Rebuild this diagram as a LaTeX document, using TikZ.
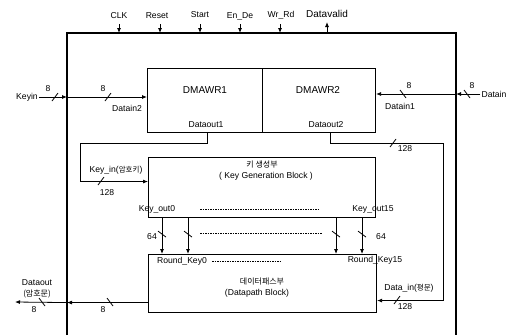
\documentclass[tikz,border=0pt]{standalone}
\usepackage{fontspec}
\setmainfont{Liberation Sans}
\newfontfamily\kr{Noto Sans CJK KR}
\usetikzlibrary{arrows.meta}
\begin{document}
\begin{tikzpicture}[x=1pt,y=-1pt,
  frame/.style={line width=1.2pt},
  box/.style={draw, line width=1.1pt, inner sep=0pt},
  lbl/.style={font=\fontsize{8.6}{10}\selectfont, inner sep=1pt},
  big/.style={font=\fontsize{10}{12}\selectfont, inner sep=1pt},
  krl/.style={font=\kr\fontsize{8}{9}\selectfont, inner sep=1pt},
  wire/.style={line width=0.8pt},
  arr/.style={wire, -{Latex[length=5pt,width=4pt]}},
  dots/.style={line width=0.7pt, dash pattern=on 1.5pt off 1pt},
  fsl/.pic={\draw[wire] (-3,4) -- (3,-4);},
  bsl/.pic={\draw[wire] (-3,-4) -- (3,4);},
  vsl/.pic={\draw[wire] (-4,-3) -- (4,3);}]
\useasboundingbox (0,0) rectangle (513,335);
% frame
\coordinate (fl) at (67,33);
\coordinate (fr) at (456,33);
\draw[frame] (67,335) -- (fl) -- (fr) -- (456,335);
% boxes
\node[box, anchor=north west, minimum width=115pt, minimum height=64pt] (d1) at (147,68) {};
\node[box, anchor=north west, minimum width=113pt, minimum height=64pt] (d2) at (262,68) {};
\node[box, anchor=north west, minimum width=227pt, minimum height=60pt] (kg) at (148,157) {};
\node[box, anchor=north west, minimum width=228pt, minimum height=58pt] (dp) at (148,254) {};
% box texts
\node[big] (t1) at (205,90) {DMAWR1};
\node[big] (t2) at (318,90) {DMAWR2};
\node[lbl] (o1) at (206,125) {Dataout1};
\node[lbl] (o2) at (326,125) {Dataout2};
\node[krl] (kgk) at (262,164) {키 생성부};
\node[lbl] (kge) at (266,176) {( Key Generation Block )};
\node[lbl] (ko0) at (157,209) {Key\_out0};
\node[lbl] (ko15) at (373,209) {Key\_out15};
\draw[dots] (200,209) -- (320,209);
\node[lbl] (rk0) at (182,261) {Round\_Key0};
\node[lbl] (rk15) at (375,260) {Round\_Key15};
\draw[dots] (212,261) -- (280,261);
\node[krl] (dpk) at (262,282) {데이터패스부};
\node[lbl] (dpe) at (257,293) {(Datapath Block)};
% top signals
\node[lbl] (clk) at (119,16) {CLK};
\node[lbl] (rst) at (157,16) {Reset};
\node[lbl] (sta) at (200,15) {Start};
\node[lbl] (end) at (240,16) {En\_De};
\node[lbl] (wrd) at (281,15) {Wr\_Rd};
\node[big] (dva) at (327,14) {Datavalid};
\draw[arr] (119,24) -- (clk.south |- fl);
\draw[arr] (160,24) -- (160,33);
\draw[arr] (200,24) -- (sta.south |- fl);
\draw[arr] (240,24) -- (end.south |- fl);
\draw[arr] (280,24) -- (280,33);
\draw[arr] (dva.south |- fl) -- (327,22);
% Keyin
\node[lbl] (keyin) at (27,97) {Keyin};
\draw[arr] (keyin.east) -- (keyin.east -| fl);
\draw[arr] (keyin.east -| fl) -- (d1.west |- keyin.east);
\pic at (55,97) {fsl};
\node[lbl] (k8a) at (48,89) {8};
\pic at (108,97) {fsl};
\node[lbl] (k8b) at (103,89) {8};
\node[lbl] (di2) at (127,108) {Datain2};
% Datain
\node[lbl] (datain) at (494,94) {Datain};
\draw[arr] (datain.west) -- (datain.west -| fr);
\draw[arr] (datain.west -| fr) -- (d2.east |- datain.west);
\pic at (467,94) {bsl};
\node[lbl] (d8a) at (472,86) {8};
\pic at (403,94) {bsl};
\node[lbl] (d8b) at (409,86) {8};
\node[lbl] (di1) at (400,106) {Datain1};
% Key_in loop
\draw[arr] ([xshift=60pt]d1.south west) |- (80,143) |- ([yshift=6pt]kg.west);
\node[lbl] (kin) at (116,170) {Key\_in({\kr\fontsize{7.5}{8}\selectfont 암호키})};
\pic at (101,181) {fsl};
\node[lbl] (k128) at (107,193) {128};
% Data_in loop
\draw[arr] ([xshift=68pt]d2.south west) |- (443,143) |- ([yshift=-17pt]dp.east);
\pic at (393,143) {fsl};
\node[lbl] (d128a) at (405,149) {128};
\node[lbl] (din) at (409,288) {Data\_in({\kr\fontsize{7.5}{8}\selectfont 평문})};
\pic at (397,300) {fsl};
\node[lbl] (d128b) at (405,307) {128};
% key arrows
\foreach \dx/\nm in {14/a,40/b,188/c,214/d}{
  \draw[arr] ([xshift=\dx pt]kg.south west) -- ([xshift=\dx pt]dp.north west);
  \pic at ([xshift=\dx pt, yshift=-16pt]kg.south west) {vsl};
}
\draw[dots] (200,233) -- (322,233);
\node[lbl] (s64a) at (152,237) {64};
\node[lbl] (s64b) at (381,237) {64};
% Dataout
\coordinate (dout) at (15,302);
\draw[arr] ([yshift=-19pt]dp.west) -- ([yshift=-19pt]dp.west -| fl);
\draw[arr] ([yshift=-19pt]dp.west -| fl) -- (dout);
\pic at (110,302) {bsl};
\node[lbl] (o8a) at (103,310) {8};
\pic at (42,302) {bsl};
\node[lbl] (o8b) at (34,310) {8};
\node[lbl] (dot) at (37,283) {Dataout};
\node[krl] (dotk) at (37,294) {(암호문)};
\end{tikzpicture}
\end{document}
